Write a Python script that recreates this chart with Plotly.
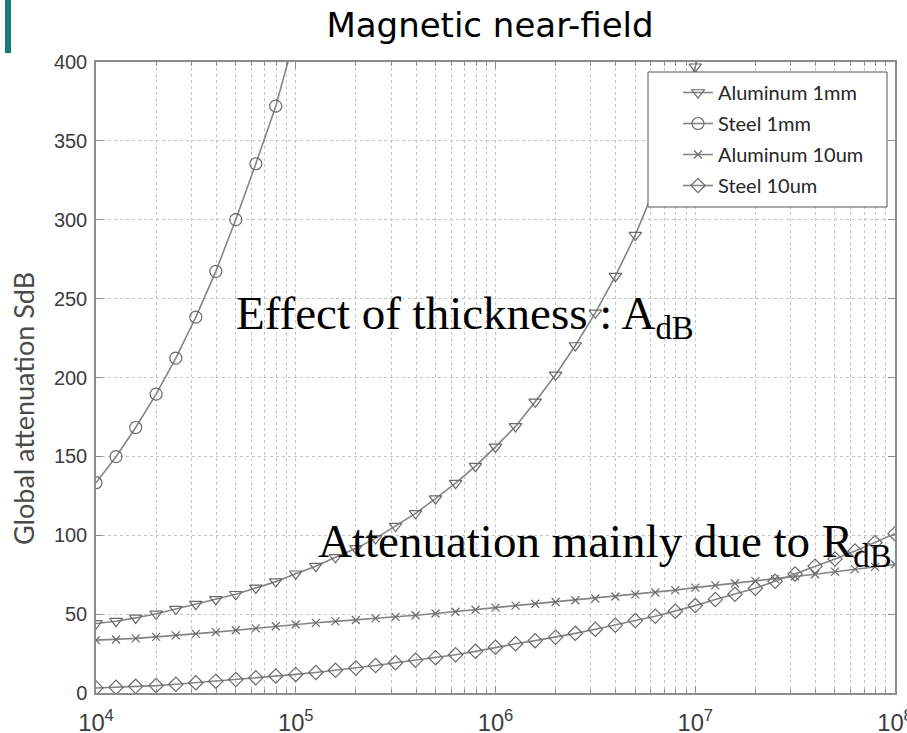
import plotly.graph_objects as go

# Frequency samples (Hz), ten per decade from 10 kHz to 100 MHz
freq_hz = [
    1.00e4, 1.26e4, 1.58e4, 2.00e4, 2.51e4, 3.16e4, 3.98e4, 5.01e4, 6.31e4, 7.94e4,
    1.00e5, 1.26e5, 1.58e5, 2.00e5, 2.51e5, 3.16e5, 3.98e5, 5.01e5, 6.31e5, 7.94e5,
    1.00e6, 1.26e6, 1.58e6, 2.00e6, 2.51e6, 3.16e6, 3.98e6, 5.01e6, 6.31e6, 7.94e6,
    1.00e7, 1.26e7, 1.58e7, 2.00e7, 2.51e7, 3.16e7, 3.98e7, 5.01e7, 6.31e7, 7.94e7,
    1.00e8,
]

# Global attenuation S (dB) for each shield
aluminum_1mm = [
    44.1, 45.5, 47.6, 50.2, 53.2, 56.3, 59.3, 62.6, 66.6, 70.6,
    75.6, 80.4, 86.0, 91.7, 98.0, 105.8, 113.9, 123.2, 133.0, 143.8,
    156.0, 169.0, 184.6, 201.7, 220.3, 241.0, 264.2, 290.3, 321.0, 357.0,
    397.0, 443.0,
]
steel_1mm = [
    133.3, 149.8, 168.3, 189.5, 212.3, 238.3, 267.3, 300.1, 335.5, 372.0,
    418.0,
]
aluminum_10um = [
    33.5, 33.9, 34.6, 35.6, 36.5, 37.5, 38.6, 39.8, 41.0, 42.3,
    43.4, 44.5, 45.4, 46.3, 47.3, 48.3, 49.3, 50.4, 51.5, 52.8,
    54.1, 55.4, 56.6, 57.7, 58.8, 59.9, 61.2, 62.5, 63.7, 65.2,
    66.8, 68.2, 69.6, 70.9, 72.2, 73.9, 75.3, 76.9, 78.5, 80.0,
    81.5,
]
steel_10um = [
    3.2, 3.6, 4.2, 4.7, 5.5, 6.5, 7.5, 8.5, 9.7, 10.8,
    11.8, 13.0, 14.4, 15.8, 17.4, 19.2, 20.8, 22.4, 24.2, 26.4,
    29.0, 31.2, 33.2, 35.4, 37.8, 40.4, 43.0, 45.9, 48.7, 51.8,
    55.4, 59.3, 62.6, 66.4, 70.8, 75.4, 80.4, 85.0, 90.0, 95.4,
    101.0,
]

series_names = ["Aluminum 1mm", "Steel 1mm", "Aluminum 10um", "Steel 10um"]
series_values = [aluminum_1mm, steel_1mm, aluminum_10um, steel_10um]
series_symbols = ["triangle-down-open", "circle-open", "x-thin-open", "diamond-open"]
series_sizes = [11, 12, 8, 11]

title_text = "Magnetic near-field"
y_title_text = "Global attenuation SdB"
note_thickness = "Effect of thickness : A<sub>dB</sub>"
note_reflection = "Attenuation mainly due to R<sub>dB</sub>"

W, H = 907, 733
ML, MR, MT, MB = 96, 12, 62, 40
PW, PH = W - ML - MR, H - MT - MB


def px_x(px):
    return (px - ML) / PW


def px_y(py):
    return (H - MB - py) / PH


LINE_GRAY = "#858585"
MARK_GRAY = "#6a6a6a"
AXIS_GRAY = "#8c8c8c"
GRID_GRAY = "#c4c4c4"

fig = go.Figure()
for i, (name, vals, sym, sz) in enumerate(zip(series_names, series_values, series_symbols, series_sizes)):
    fig.add_trace(go.Scatter(
        x=freq_hz[:len(vals)], y=vals, name=name, mode="lines+markers",
        legendgroup=f"g{i}",
        line=dict(color=LINE_GRAY, width=1.6),
        marker=dict(symbol=sym, size=sz, color=MARK_GRAY, line=dict(width=1.2, color=MARK_GRAY)),
    ))

common_axis = dict(
    showline=True, linecolor=AXIS_GRAY, linewidth=1.5, mirror="allticks",
    ticks="inside", ticklen=7, tickcolor=AXIS_GRAY, tickwidth=1,
    showgrid=True, gridcolor=GRID_GRAY, gridwidth=1, griddash="dot",
    zeroline=False, automargin=False,
)

fig.update_xaxes(
    type="log", range=[4, 8], dtick=1, exponentformat="power",
    ticklabelstandoff=9, ticklabeloverflow="allow",
    tickfont=dict(family="Liberation Sans, Arial, sans-serif", size=19, color="#3c3c3c"),
    minor=dict(dtick="D1", ticks="inside", ticklen=4, tickcolor=AXIS_GRAY,
               showgrid=True, gridcolor=GRID_GRAY, griddash="dot"),
    **common_axis,
)
fig.update_yaxes(
    range=[0, 400], dtick=50, ticklabelstandoff=3,
    tickfont=dict(family="Liberation Sans, Arial, sans-serif", size=20, color="#3c3c3c"),
    **common_axis,
)

# Legend frame (opaque, hides the curves behind it)
fig.add_shape(type="rect", xref="paper", yref="paper",
              x0=px_x(648), x1=px_x(887), y0=px_y(207), y1=px_y(72),
              fillcolor="white", line=dict(color="#555555", width=1), layer="above")

# Accent bar in the top-left corner
fig.add_shape(type="rect", xref="paper", yref="paper",
              x0=px_x(5), x1=px_x(11), y0=px_y(53), y1=px_y(0),
              fillcolor="#137c77", line=dict(width=0), layer="above")

fig.add_annotation(text=y_title_text, xref="paper", yref="paper",
                   x=px_x(23), y=px_y(409), textangle=-90, showarrow=False,
                   xanchor="center", yanchor="middle",
                   font=dict(family="Lato, sans-serif", size=27, color="#4a4a4a"))

serif = dict(family="Liberation Serif, Times New Roman, serif", size=47, color="black")
fig.add_annotation(text=note_thickness, xref="paper", yref="paper",
                   x=px_x(234), y=px_y(316), xanchor="left", yanchor="middle",
                   showarrow=False, font=serif)
fig.add_annotation(text=note_reflection, xref="paper", yref="paper",
                   x=px_x(316), y=px_y(544), xanchor="left", yanchor="middle",
                   showarrow=False, font=serif)

fig.update_layout(
    width=W, height=H,
    margin=dict(l=ML, r=MR, t=MT, b=MB),
    paper_bgcolor="white", plot_bgcolor="white",
    title=dict(text=title_text, x=490 / W, xanchor="center", y=1 - 25 / H, yanchor="middle",
               font=dict(family="DejaVu Sans, sans-serif", size=34, color="black")),
    legend=dict(x=px_x(678), y=px_y(73), xanchor="left", yanchor="top",
                bgcolor="rgba(0,0,0,0)", borderwidth=0, tracegroupgap=2,
                font=dict(family="Lato, sans-serif", size=20, color="#262626")),
    showlegend=True,
)

fig.write_html("out.html")
